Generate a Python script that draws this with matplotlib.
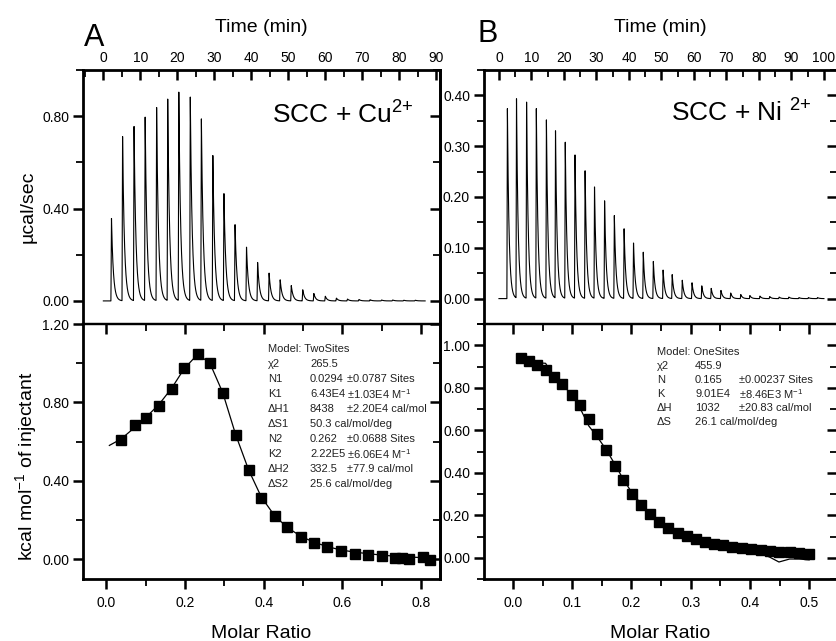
import numpy as np
import matplotlib
matplotlib.use("Agg")
import matplotlib.pyplot as plt
from matplotlib.ticker import MultipleLocator, FormatStrFormatter

plt.rcParams['font.family'] = ['Liberation Sans', 'DejaVu Sans']
plt.rcParams['mathtext.fontset'] = 'custom'
plt.rcParams['mathtext.rm'] = 'Liberation Sans'
plt.rcParams['mathtext.it'] = 'Liberation Sans:italic'
plt.rcParams['mathtext.bf'] = 'Liberation Sans:bold'

# ---- panel A : SCC + Cu2+ ----
inj_time_A = [2.2, 5.2, 8.3, 11.3, 14.4, 17.4, 20.4, 23.5, 26.5, 29.6, 32.6, 35.6, 38.7, 41.7,
              44.8, 47.8, 50.8, 53.9, 56.9, 60.0, 63.0, 66.0, 69.1, 72.1, 75.2, 78.2, 81.2, 84.3]
peak_A = [0.357, 0.711, 0.754, 0.794, 0.836, 0.872, 0.902, 0.881, 0.786, 0.628, 0.463, 0.329,
          0.232, 0.166, 0.120, 0.091, 0.066, 0.048, 0.032, 0.020, 0.012, 0.008, 0.006, 0.005,
          0.004, 0.004, 0.003, 0.003]
ratio_A = [0.038, 0.072, 0.102, 0.134, 0.166, 0.198, 0.232, 0.263, 0.296, 0.329, 0.362, 0.394,
           0.428, 0.460, 0.495, 0.527, 0.562, 0.596, 0.632, 0.665, 0.700, 0.734, 0.751, 0.769,
           0.804, 0.823]
heat_A = [0.607, 0.686, 0.720, 0.783, 0.868, 0.976, 1.047, 1.003, 0.847, 0.632, 0.454, 0.314,
          0.220, 0.164, 0.114, 0.085, 0.064, 0.042, 0.030, 0.022, 0.017, 0.009, 0.006, 0.002,
          0.014, -0.003]
fit_x_A = [0.008] + ratio_A
fit_y_A = [0.581, 0.614, 0.672, 0.726, 0.790, 0.872, 0.972, 1.045, 1.002, 0.850, 0.635, 0.455,
           0.318, 0.222, 0.163, 0.117, 0.088, 0.065, 0.048, 0.037, 0.029, 0.022, 0.016, 0.014,
           0.012, 0.009, 0.007]
par_lab_A = ["χ2", "N1", "K1", "ΔH1", "ΔS1", "N2", "K2", "ΔH2", "ΔS2"]
par_val_A = ["265.5", "0.0294", "6.43E4", "8438", "50.3 cal/mol/deg", "0.262", "2.22E5",
             "332.5", "25.6 cal/mol/deg"]
par_err_A = ["", "±0.0787 Sites", "±1.03E4 M$^{-1}$", "±2.20E4 cal/mol", "", "±0.0688 Sites",
             "±6.06E4 M$^{-1}$", "±77.9 cal/mol", ""]

# ---- panel B : SCC + Ni2+ ----
inj_time_B = [2.6, 5.4, 8.5, 11.5, 14.6, 17.4, 20.4, 23.4, 26.5, 29.4, 32.5, 35.5, 38.5, 41.4,
              44.4, 47.5, 50.5, 53.3, 56.4, 59.4, 62.4, 65.3, 68.3, 71.3, 74.4, 77.2, 80.3, 83.3,
              86.2, 89.2, 92.3, 95.2, 98.0]
peak_B = [0.374, 0.392, 0.386, 0.373, 0.351, 0.329, 0.307, 0.282, 0.251, 0.219, 0.192, 0.163,
          0.137, 0.109, 0.091, 0.073, 0.056, 0.047, 0.036, 0.031, 0.025, 0.020, 0.016, 0.011,
          0.008, 0.006, 0.005, 0.004, 0.003, 0.003, 0.002, 0.002, 0.002]
ratio_B = [0.014, 0.027, 0.041, 0.055, 0.069, 0.083, 0.099, 0.113, 0.128, 0.142, 0.157, 0.172,
           0.186, 0.201, 0.216, 0.231, 0.247, 0.262, 0.278, 0.293, 0.309, 0.324, 0.340, 0.355,
           0.370, 0.386, 0.402, 0.418, 0.434, 0.449, 0.467, 0.483, 0.500]
heat_B = [0.940, 0.928, 0.906, 0.882, 0.851, 0.817, 0.768, 0.718, 0.654, 0.583, 0.506, 0.434,
          0.364, 0.302, 0.248, 0.204, 0.169, 0.139, 0.118, 0.102, 0.086, 0.074, 0.063, 0.058,
          0.050, 0.044, 0.039, 0.036, 0.031, 0.028, 0.025, 0.022, 0.020]
fit_y_B = [0.940, 0.930, 0.918, 0.915, 0.850, 0.815, 0.768, 0.705, 0.620, 0.570, 0.510, 0.440,
           0.370, 0.305, 0.255, 0.205, 0.170, 0.140, 0.118, 0.100, 0.086, 0.074, 0.064, 0.057,
           0.050, 0.043, 0.037, 0.022, 0.002, -0.020, -0.006, -0.006, -0.010]
par_lab_B = ["χ2", "N", "K", "ΔH", "ΔS"]
par_val_B = ["455.9", "0.165", "9.01E4", "1032", "26.1 cal/mol/deg"]
par_err_B = ["", "±0.00237 Sites", "±8.46E3 M$^{-1}$", "±20.83 cal/mol", ""]

W, H = 836, 641
fig = plt.figure(figsize=(W / 100, H / 100), dpi=100)
LW = 2.0


def px_axes(l, t, r, b):
    return fig.add_axes([l / W, 1 - b / H, (r - l) / W, (b - t) / H])


def trace(times, heights, t_end, tau=0.5):
    # raw power trace: each injection drawn as a fast rise and exponential return
    t = np.arange(0, t_end, 0.02)
    y = np.zeros_like(t)
    for t0, h in zip(times, heights):
        up = (t >= t0 - 0.15) & (t < t0)
        y[up] += h * (t[up] - (t0 - 0.15)) / 0.15
        dn = t >= t0
        y[dn] += h * np.exp(-(t[dn] - t0) / tau)
    return t, y


def style_spines(ax):
    for s in ax.spines.values():
        s.set_linewidth(LW)


def top_panel(ax, xlim, ylim, ymaj, ymin):
    ax.set_xlim(*xlim)
    ax.set_ylim(*ylim)
    style_spines(ax)
    ax.spines['bottom'].set_visible(False)
    ax.xaxis.set_major_locator(MultipleLocator(10))
    ax.xaxis.set_minor_locator(MultipleLocator(5))
    ax.yaxis.set_major_locator(MultipleLocator(ymaj))
    ax.yaxis.set_minor_locator(MultipleLocator(ymin))
    ax.yaxis.set_major_formatter(FormatStrFormatter('%.2f'))
    ax.tick_params(axis='x', which='both', direction='in', bottom=False, top=True,
                   labelbottom=False, labeltop=True, labelsize=10, pad=3.5)
    ax.tick_params(axis='y', which='both', direction='out', right=False, labelsize=10, pad=3)
    ax.tick_params(which='major', length=7, width=1.8)
    ax.tick_params(which='minor', length=5, width=1.3)
    ax.xaxis.set_label_position('top')
    ax.set_xlabel('Time (min)', fontsize=14, labelpad=14)
    sec = ax.secondary_yaxis('right')
    sec.yaxis.set_major_locator(MultipleLocator(ymaj))
    sec.yaxis.set_minor_locator(MultipleLocator(ymin))
    sec.tick_params(which='both', direction='in', labelright=False)
    sec.tick_params(which='major', length=7, width=1.8)
    sec.tick_params(which='minor', length=5, width=1.3)
    sec.spines['right'].set_linewidth(LW)


def bottom_panel(ax, xlim, ylim, xmaj, xmin, ymaj, ymin, xfmt):
    ax.set_xlim(*xlim)
    ax.set_ylim(*ylim)
    style_spines(ax)
    ax.spines['top'].set_linewidth(1.6)
    ax.xaxis.set_major_locator(MultipleLocator(xmaj))
    ax.xaxis.set_minor_locator(MultipleLocator(xmin))
    ax.yaxis.set_major_locator(MultipleLocator(ymaj))
    ax.yaxis.set_minor_locator(MultipleLocator(ymin))
    ax.yaxis.set_major_formatter(FormatStrFormatter('%.2f'))
    ax.xaxis.set_major_formatter(FormatStrFormatter(xfmt))
    ax.tick_params(which='both', direction='out', top=False, right=False, labelsize=10)
    ax.tick_params(axis='x', pad=5)
    ax.tick_params(axis='y', pad=3)
    ax.tick_params(which='major', length=7, width=1.8)
    ax.tick_params(which='minor', length=5, width=1.3)
    ax.set_xlabel('Molar Ratio', fontsize=14, labelpad=11)
    secx = ax.secondary_xaxis('top')
    secx.xaxis.set_major_locator(MultipleLocator(xmaj))
    secx.xaxis.set_minor_locator(MultipleLocator(xmin))
    secx.tick_params(which='both', direction='in', labeltop=False)
    secx.tick_params(which='major', length=7, width=1.8)
    secx.tick_params(which='minor', length=5, width=1.3)
    secx.spines['top'].set_linewidth(1.6)
    secy = ax.secondary_yaxis('right')
    secy.yaxis.set_major_locator(MultipleLocator(ymaj))
    secy.yaxis.set_minor_locator(MultipleLocator(ymin))
    secy.tick_params(which='both', direction='in', labelright=False)
    secy.tick_params(which='major', length=7, width=1.8)
    secy.tick_params(which='minor', length=5, width=1.3)
    secy.spines['right'].set_linewidth(LW)


def fit_table(x0, xv, xe, y0, dy, model, labs, vals, errs):
    kw = dict(fontsize=8, color='#222222', va='center', ha='left')
    fig.text(x0 / W, 1 - y0 / H, model, **kw)
    for i, (a, b, c) in enumerate(zip(labs, vals, errs)):
        y = 1 - (y0 + (i + 1) * dy) / H
        fig.text(x0 / W, y, a, **kw)
        fig.text(xv / W, y, b, **kw)
        if c:
            fig.text(xe / W, y, c, **kw)


# ---------------- panel A ----------------
axA = px_axes(83, 70, 440, 324)
t, y = trace(inj_time_A, peak_A, 87.0)
axA.plot(t, y, color='black', lw=0.8)
top_panel(axA, (-5.5, 91.0), (-0.1, 1.0), 0.4, 0.2)
axA.set_ylabel('µcal/sec', fontsize=14)
axA.yaxis.set_label_coords(-0.13, 0.46)
axA.text(0.53, 0.79, 'SCC + Cu$^{2{+}}$', transform=axA.transAxes, fontsize=19)

bxA = px_axes(83, 324, 440, 579)
bxA.plot(fit_x_A, fit_y_A, color='black', lw=0.9)
bxA.plot(ratio_A, heat_A, 's', color='black', ms=6.5)
bottom_panel(bxA, (-0.059, 0.848), (-0.1, 1.2), 0.2, 0.1, 0.4, 0.2, '%.1f')
bxA.set_ylabel('kcal mol$^{-1}$ of injectant', fontsize=14)
bxA.yaxis.set_label_coords(-0.122, 0.44)
fit_table(268, 310, 347, 349, 15, 'Model: TwoSites', par_lab_A, par_val_A, par_err_A)

# ---------------- panel B ----------------
axB = px_axes(484, 70, 837, 324)
t, y = trace(inj_time_B, peak_B, 100.0)
axB.plot(t, y, color='black', lw=0.8)
top_panel(axB, (-4.6, 104.0), (-0.05, 0.45), 0.1, 0.05)
axB.text(0.53, 0.795, 'SCC + Ni $^{2{+}}$', transform=axB.transAxes, fontsize=19)

bxB = px_axes(484, 324, 837, 579)
bxB.plot(ratio_B, fit_y_B, color='black', lw=0.9)
bxB.plot(ratio_B, heat_B, 's', color='black', ms=6.5)
bottom_panel(bxB, (-0.049, 0.547), (-0.1, 1.1), 0.1, 0.05, 0.2, 0.1, '%.1f')
fit_table(657, 695, 739, 352, 14, 'Model: OneSites', par_lab_B, par_val_B, par_err_B)

fig.text(84 / W, 1 - 46 / H, 'A', fontsize=22)
fig.text(477 / W, 1 - 42 / H, 'B', fontsize=22)

fig.savefig('out.png', dpi=100)
